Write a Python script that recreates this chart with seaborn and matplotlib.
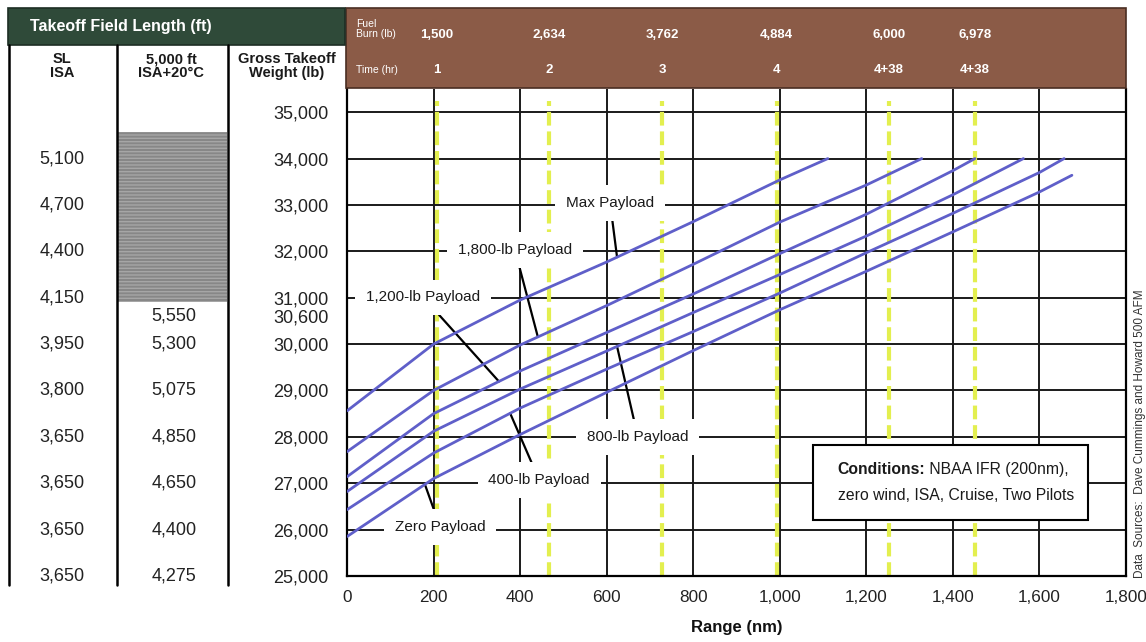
import numpy as np
import pandas as pd
import matplotlib
matplotlib.use("Agg")
import matplotlib.pyplot as plt
import seaborn as sns
from matplotlib import transforms
from matplotlib.patches import Rectangle
from matplotlib.lines import Line2D

# ---------------- data ----------------
max_x = [0, 200, 400, 600, 800, 1000, 1111]
max_w = [28560, 30000, 30950, 31770, 32640, 33540, 34000]

p1800_x = [0, 200, 400, 600, 800, 1000, 1200, 1328]
p1800_w = [27680, 29000, 29980, 30830, 31720, 32630, 33430, 34000]

p1200_x = [0, 200, 400, 600, 800, 1000, 1200, 1400, 1451]
p1200_w = [27140, 28500, 29420, 30250, 31080, 31950, 32800, 33740, 34000]

p800_x = [0, 200, 400, 600, 800, 1000, 1200, 1400, 1563]
p800_w = [26820, 28120, 29030, 29850, 30680, 31500, 32330, 33220, 34000]

p400_x = [0, 200, 400, 600, 800, 1000, 1200, 1400, 1600, 1657]
p400_w = [26430, 27650, 28620, 29460, 30270, 31100, 31970, 32820, 33700, 34000]

zero_x = [0, 200, 400, 600, 800, 1000, 1200, 1400, 1600, 1675]
zero_w = [25850, 27100, 28050, 28960, 29860, 30740, 31570, 32420, 33280, 33640]

series_names = ["Max Payload", "1,800-lb Payload", "1,200-lb Payload",
                "800-lb Payload", "400-lb Payload", "Zero Payload"]
series_x = [max_x, p1800_x, p1200_x, p800_x, p400_x, zero_x]
series_w = [max_w, p1800_w, p1200_w, p800_w, p400_w, zero_w]

fuel_range = [208, 467, 728, 993, 1252, 1451]
fuel_burn = ["1,500", "2,634", "3,762", "4,884", "6,000", "6,978"]
time_hr = ["1", "2", "3", "4", "4+38", "4+38"]

x_ticks = list(range(0, 1801, 200))
y_ticks = list(range(25000, 35001, 1000))

tbl_weights = [34000, 33000, 32000, 31000, 30000, 29000, 28000, 27000, 26000, 25000]
sl_isa = ["5,100", "4,700", "4,400", "4,150", "3,950", "3,800", "3,650", "3,650", "3,650", "3,650"]
hot_weights = [30600, 30000, 29000, 28000, 27000, 26000, 25000]
hot_vals = ["5,550", "5,300", "5,075", "4,850", "4,650", "4,400", "4,275"]
hot_blocked = (30900, 34570)

# ---------------- style ----------------
sns.set_theme(style="white")
plt.rcParams["font.family"] = ["Liberation Sans", "DejaVu Sans"]
LINE = "#5f5fc9"
YELLOW = "#e3ef4f"
BROWN = "#8b5b47"
GREEN = "#2f4a39"

W, H = 1146, 642
fig = plt.figure(figsize=(W / 100, H / 100), dpi=100)
fig.patch.set_facecolor("white")


def fx(px):
    return px / W


def fy(py):
    return 1 - py / H


ax = fig.add_axes([fx(347), fy(576), fx(1126) - fx(347), fy(89) - fy(576)])
ax.set_facecolor("white")

rows = []
for n, xs, ws in zip(series_names, series_x, series_w):
    rows += [(n, x, w) for x, w in zip(xs, ws)]
df = pd.DataFrame(rows, columns=["payload", "range", "weight"])

sns.lineplot(data=df, x="range", y="weight", hue="payload",
             palette={n: LINE for n in series_names}, legend=False,
             estimator=None, sort=False, lw=2.0, ax=ax, zorder=5)

ax.vlines(fuel_range, 25000, 35250, colors=YELLOW, lw=3,
          linestyles=(0, (3.3, 1.4)), zorder=2)

ax.set_xlim(0, 1800)
ax.set_ylim(25000, 35500)
ax.set_xticks(x_ticks)
ax.set_xticklabels([f"{v:,}" for v in x_ticks], fontsize=12.3)
ax.set_yticks(y_ticks)
ax.set_yticklabels([f"{v:,}" for v in y_ticks], fontsize=13)
ax.set_yticks([30600], minor=True)
ax.set_yticklabels(["30,600"], minor=True, fontsize=13)
ax.tick_params(axis="y", which="major", direction="out", length=10, width=1.4,
               color="black", pad=3.5, colors="#222222")
ax.tick_params(axis="y", which="minor", length=0, pad=13.5, colors="#222222")
ax.tick_params(axis="x", which="major", direction="out", length=4, width=1.4,
               pad=6, colors="#222222")
ax.grid(True, which="major", color="#1a1a1a", lw=1.4)
ax.set_axisbelow(True)
for s in ["left", "right", "bottom"]:
    ax.spines[s].set_color("black")
    ax.spines[s].set_linewidth(1.6)
ax.spines["top"].set_visible(False)
ax.set_xlabel("Range (nm)", fontsize=12, fontweight="bold",
              labelpad=11, color="#111111")
ax.set_ylabel("")

# ---------------- curve labels ----------------
label_spec = [
    ("Max Payload", 608, 33040, 624),
    ("1,800-lb Payload", 388, 32030, 441),
    ("1,200-lb Payload", 176, 31010, 351),
    ("800-lb Payload", 672, 28000, 624),
    ("400-lb Payload", 444, 27070, 377),
    ("Zero Payload", 215, 26060, 180),
]
for name, tx, ty_, px in label_spec:
    i = series_names.index(name)
    py = float(np.interp(px, series_x[i], series_w[i]))
    ax.annotate(name, xy=(px, py), xytext=(tx, ty_), ha="center", va="center",
                fontsize=11, color="#1a1a1a", zorder=4,
                bbox=dict(boxstyle="square,pad=0.7", fc="white", ec="none"),
                arrowprops=dict(arrowstyle="-", color="black", lw=1.6,
                                shrinkA=0, shrinkB=0))

# ---------------- conditions box ----------------
ax.add_patch(Rectangle((0.598, 0.115), 0.951 - 0.598, 0.269 - 0.115,
                       transform=ax.transAxes, fc="white", ec="black",
                       lw=1.5, zorder=6))
t1 = ax.text(0.629, 0.2177, "Conditions:", transform=ax.transAxes,
             ha="left", va="center", fontsize=11.3, fontweight="bold",
             color="#1a1a1a", zorder=7)
ax.annotate(" NBAA IFR (200nm),", xy=(1, 0), xycoords=t1, ha="left",
            va="bottom", fontsize=11.3, color="#1a1a1a", zorder=7)
ax.text(0.782, 0.166, "zero wind, ISA, Cruise, Two Pilots", transform=ax.transAxes,
        ha="center", va="center", fontsize=11.3, color="#1a1a1a", zorder=7)

# ---------------- headers ----------------
fig.add_artist(Rectangle((fx(346), fy(88)), fx(1126) - fx(346), fy(8) - fy(88),
                         transform=fig.transFigure, fc=BROWN, ec="#4a2e22", lw=1.2))
fig.add_artist(Rectangle((fx(8), fy(45)), fx(345) - fx(8), fy(8) - fy(45),
                         transform=fig.transFigure, fc=GREEN, ec="#1d2e24", lw=1.2))
fig.text(fx(30), fy(27), "Takeoff Field Length (ft)", color="white",
         fontsize=11.5, fontweight="bold", ha="left", va="center")

hx = transforms.blended_transform_factory(ax.transData, fig.transFigure)
for xr, fb, th in zip(fuel_range, fuel_burn, time_hr):
    fig.text(xr, fy(35), fb, transform=hx, color="white", fontsize=9.5,
             fontweight="bold", ha="center", va="center")
    fig.text(xr, fy(70), th, transform=hx, color="white", fontsize=9.5,
             fontweight="bold", ha="center", va="center")
fig.text(fx(356), fy(29), "Fuel\nBurn (lb)", color="white", fontsize=7.5,
         ha="left", va="center", linespacing=0.95)
fig.text(fx(356), fy(70), "Time (hr)", color="white", fontsize=7.5,
         ha="left", va="center")

# column headers
for cx, txt in [(62, "SL\nISA"), (171, "5,000 ft\nISA+20\u00b0C"),
                (287, "Gross Takeoff\nWeight (lb)")]:
    fig.text(fx(cx), fy(66), txt, ha="center", va="center", fontsize=10.5,
             fontweight="bold", color="#1a1a1a", linespacing=0.95)

for xl in [9, 117, 228]:
    fig.add_artist(Line2D([fx(xl), fx(xl)], [fy(45), fy(585)],
                          transform=fig.transFigure, color="black", lw=1.8))

# table values
tyt = transforms.blended_transform_factory(fig.transFigure, ax.transData)
for w, v in zip(tbl_weights, sl_isa):
    fig.text(fx(62), w, v, transform=tyt, ha="center", va="center",
             fontsize=13, color="#222222")
for w, v in zip(hot_weights, hot_vals):
    fig.text(fx(174), w, v, transform=tyt, ha="center", va="center",
             fontsize=13, color="#222222")
fig.add_artist(Rectangle((fx(118), hot_blocked[0]), fx(227) - fx(118),
                         hot_blocked[1] - hot_blocked[0], transform=tyt,
                         fc="#878787", ec="#a6a6a6", lw=0, hatch="-----"))

# source note
fig.text(fx(1140), fy(434), "Data  Sources:  Dave Cummings and Howard 500 AFM",
         rotation=90, ha="center", va="center", fontsize=8.5, color="#333333")

fig.savefig("out.png", dpi=100, facecolor="white")
